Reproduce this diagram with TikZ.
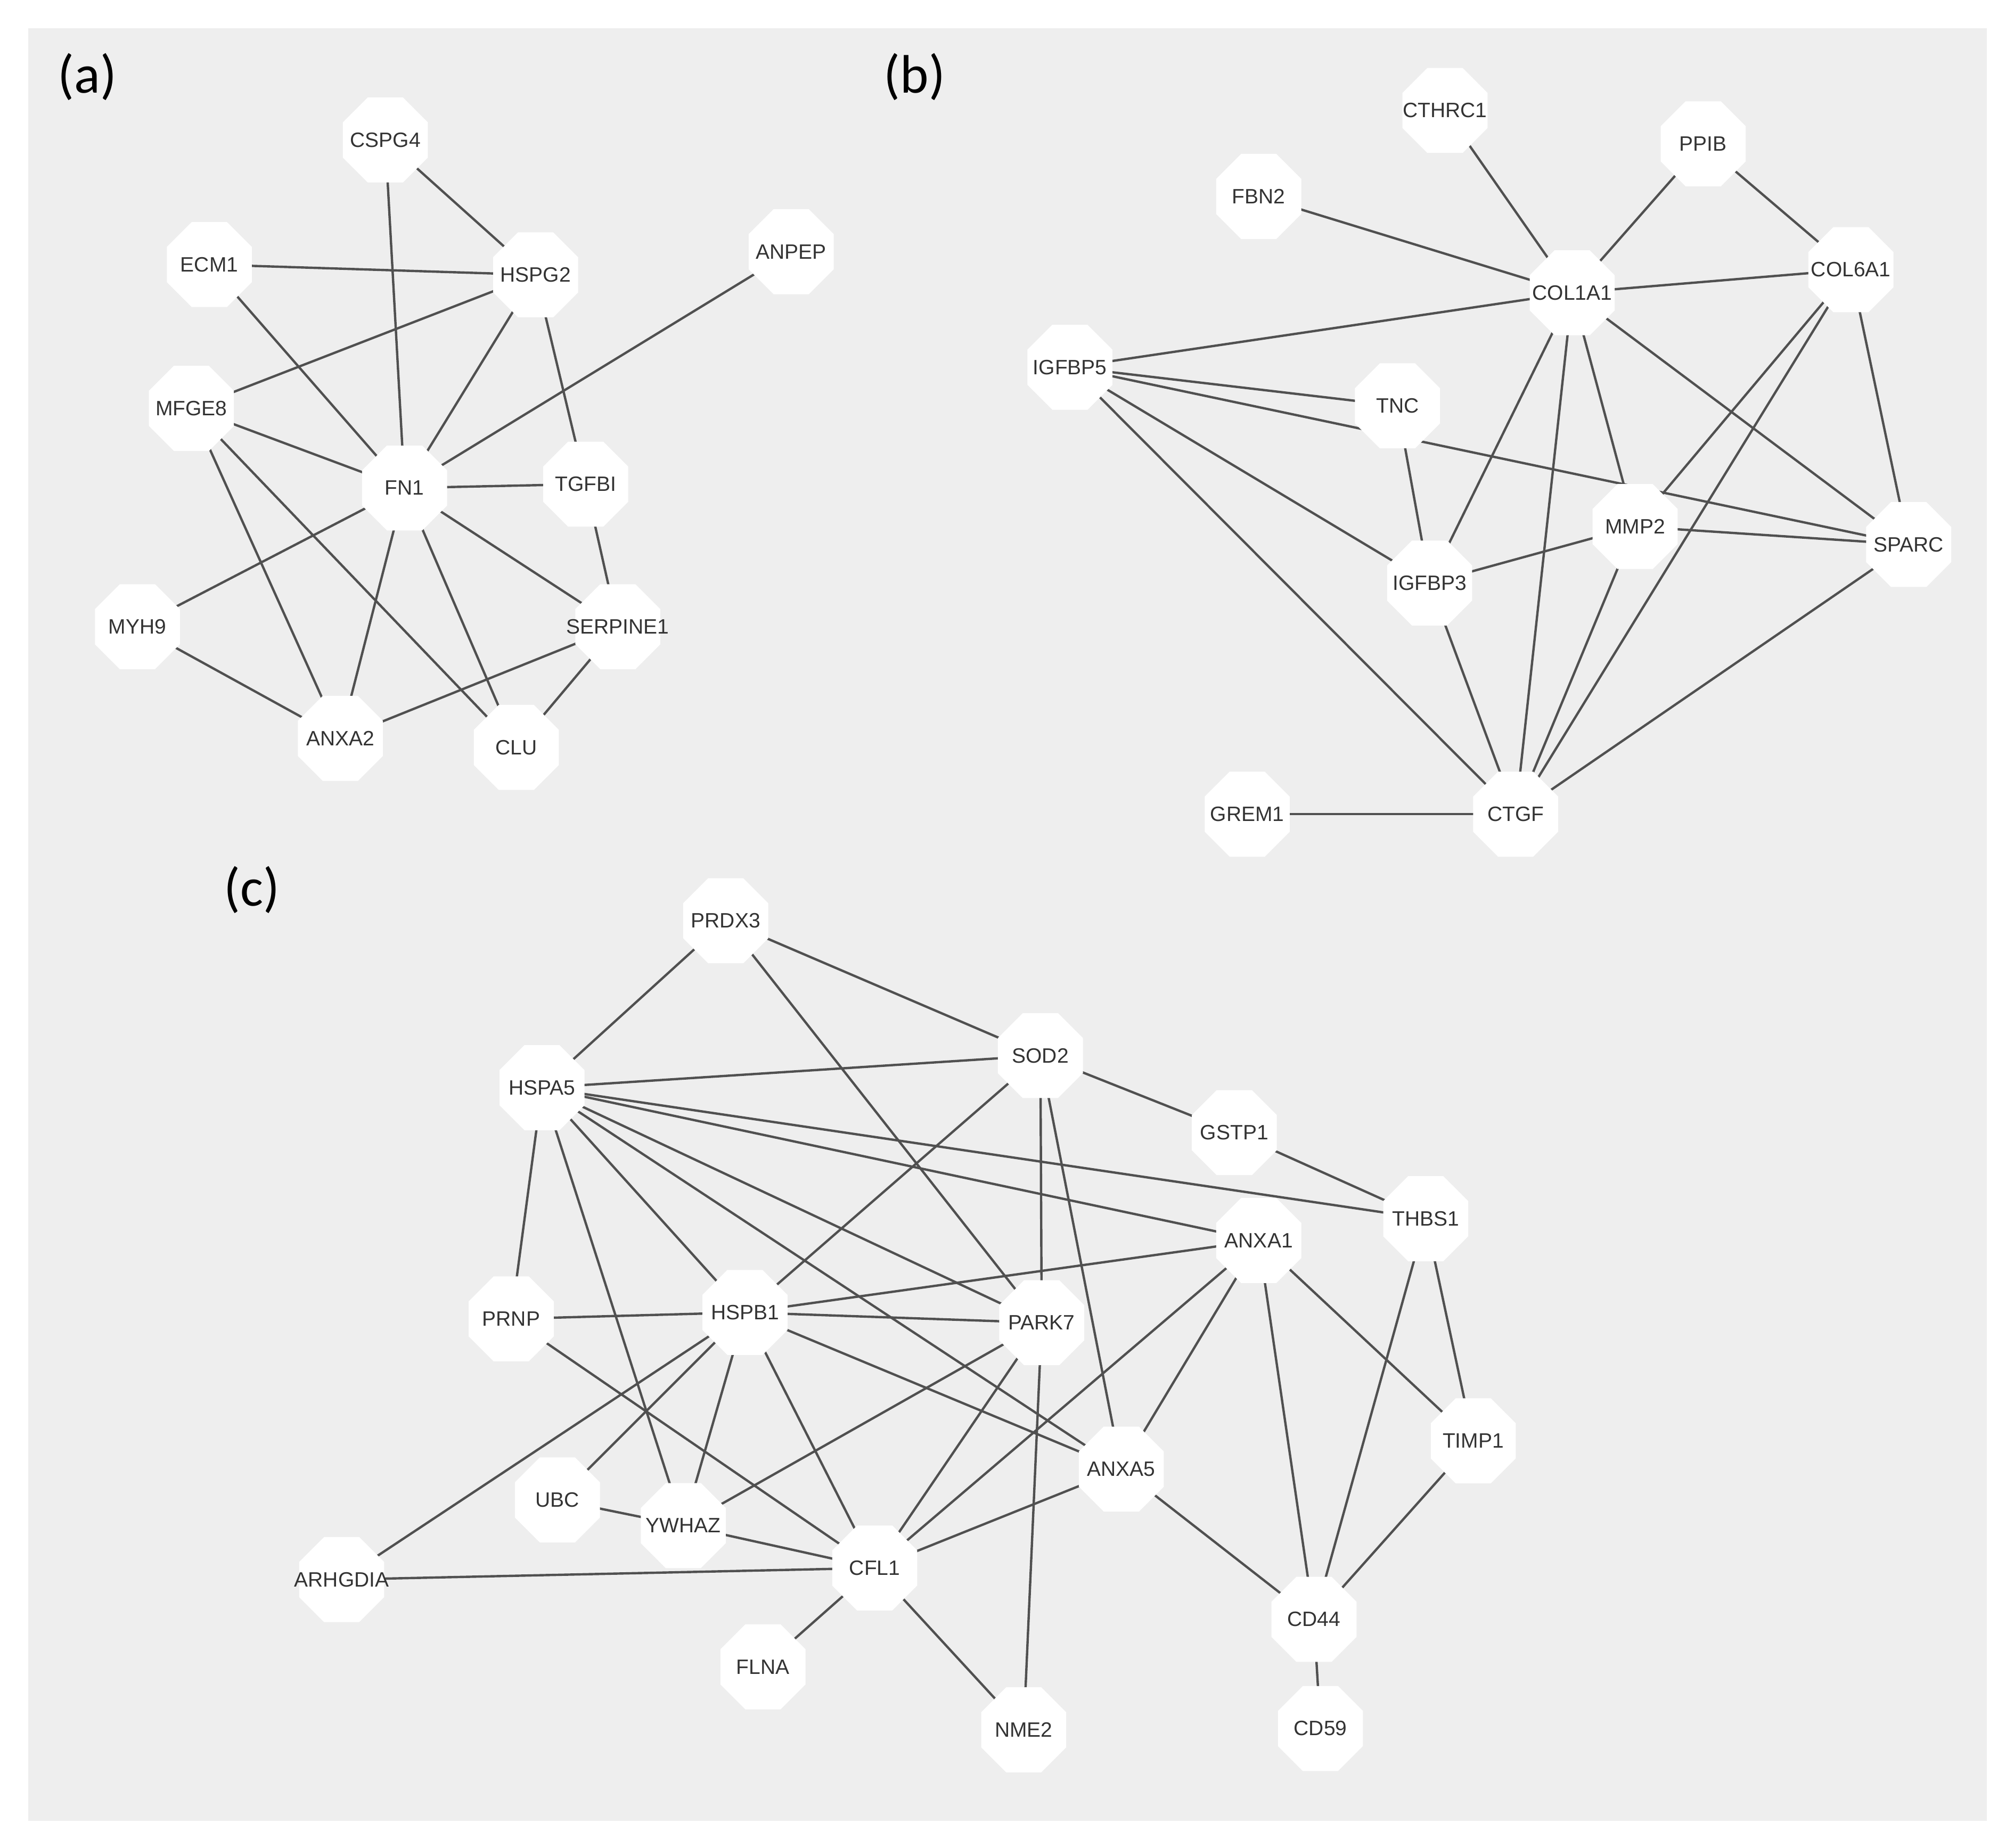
\documentclass[tikz,border=0pt]{standalone}
\usepackage{fontspec}
\setmainfont{Liberation Sans}
\newfontfamily\lblfont{Carlito}
\usetikzlibrary{shapes.geometric}
\definecolor{bg}{HTML}{EEEEEE}
\definecolor{edge}{HTML}{505050}
\pgfdeclarelayer{back}
\pgfdeclarelayer{edges}
\pgfsetlayers{back,edges,main}
\begin{document}
\begin{tikzpicture}[x=0.025cm,y=-0.025cm,
  g/.style={regular polygon,regular polygon sides=8,fill=white,draw=none,inner sep=0pt,minimum size=1.79cm,
    label={[font=\fontsize{11.5}{13}\selectfont,text=black!80]center:#1}},
  e/.style={draw=edge,line width=1.3pt},
  lbl/.style={font=\lblfont\fontsize{30}{34}\selectfont,text=black}]
\useasboundingbox (0,0) rectangle (1568,1439);
\begin{pgfonlayer}{back}
\fill[white] (0,0) rectangle (1568,1439);
\fill[bg] (22,22) rectangle (1547,1418);
\end{pgfonlayer}
\node[lbl] (la) at (68,60) {(a)};
\node[lbl] (lb) at (712,60) {(b)};
\node[lbl] (lc) at (196,693) {(c)};
% (a)
\node[g=CSPG4] (CSPG4) at (300,109) {};
\node[g=HSPG2] (HSPG2) at (417,214) {};
\node[g=ECM1] (ECM1) at (163,206) {};
\node[g=ANPEP] (ANPEP) at (616,196) {};
\node[g=MFGE8] (MFGE8) at (149,318) {};
\node[g=FN1] (FN1) at (315,380) {};
\node[g=TGFBI] (TGFBI) at (456,377) {};
\node[g=MYH9] (MYH9) at (107,488) {};
\node[g=SERPINE1] (SERPINE1) at (481,488) {};
\node[g=ANXA2] (ANXA2) at (265,575) {};
\node[g=CLU] (CLU) at (402,582) {};
% (b)
\node[g=CTHRC1] (CTHRC1) at (1125,86) {};
\node[g=PPIB] (PPIB) at (1326,112) {};
\node[g=FBN2] (FBN2) at (980,153) {};
\node[g=COL1A1] (COL1A1) at (1224,228) {};
\node[g=COL6A1] (COL6A1) at (1441,210) {};
\node[g=IGFBP5] (IGFBP5) at (833,286) {};
\node[g=TNC] (TNC) at (1088,316) {};
\node[g=MMP2] (MMP2) at (1273,410) {};
\node[g=SPARC] (SPARC) at (1486,424) {};
\node[g=IGFBP3] (IGFBP3) at (1113,454) {};
\node[g=GREM1] (GREM1) at (971,634) {};
\node[g=CTGF] (CTGF) at (1180,634) {};
% (c)
\node[g=PRDX3] (PRDX3) at (565,717) {};
\node[g=SOD2] (SOD2) at (810,822) {};
\node[g=HSPA5] (HSPA5) at (422,847) {};
\node[g=GSTP1] (GSTP1) at (961,882) {};
\node[g=THBS1] (THBS1) at (1110,949) {};
\node[g=ANXA1] (ANXA1) at (980,966) {};
\node[g=PRNP] (PRNP) at (398,1027) {};
\node[g=HSPB1] (HSPB1) at (580,1022) {};
\node[g=PARK7] (PARK7) at (811,1030) {};
\node[g=TIMP1] (TIMP1) at (1147,1122) {};
\node[g=ANXA5] (ANXA5) at (873,1144) {};
\node[g=UBC] (UBC) at (434,1168) {};
\node[g=YWHAZ] (YWHAZ) at (532,1188) {};
\node[g=CFL1] (CFL1) at (681,1221) {};
\node[g=ARHGDIA] (ARHGDIA) at (266,1230) {};
\node[g=CD44] (CD44) at (1023,1261) {};
\node[g=FLNA] (FLNA) at (594,1298) {};
\node[g=NME2] (NME2) at (797,1347) {};
\node[g=CD59] (CD59) at (1028,1346) {};
\begin{pgfonlayer}{edges}
\foreach \a/\b in {CSPG4/HSPG2,CSPG4/FN1,ECM1/HSPG2,ECM1/FN1,HSPG2/MFGE8,HSPG2/FN1,HSPG2/TGFBI,ANPEP/FN1,MFGE8/FN1,MFGE8/ANXA2,MFGE8/CLU,FN1/TGFBI,FN1/MYH9,FN1/SERPINE1,FN1/ANXA2,FN1/CLU,TGFBI/SERPINE1,MYH9/ANXA2,SERPINE1/ANXA2,SERPINE1/CLU,
CTHRC1/COL1A1,PPIB/COL1A1,PPIB/COL6A1,FBN2/COL1A1,COL1A1/COL6A1,COL1A1/IGFBP5,COL1A1/IGFBP3,COL1A1/CTGF,COL1A1/MMP2,COL1A1/SPARC,COL6A1/MMP2,COL6A1/CTGF,COL6A1/SPARC,IGFBP5/TNC,IGFBP5/SPARC,IGFBP5/IGFBP3,IGFBP5/CTGF,TNC/IGFBP3,IGFBP3/MMP2,IGFBP3/CTGF,MMP2/SPARC,MMP2/CTGF,SPARC/CTGF,GREM1/CTGF,
PRDX3/HSPA5,PRDX3/SOD2,PRDX3/PARK7,HSPA5/SOD2,SOD2/GSTP1,SOD2/HSPB1,SOD2/PARK7,SOD2/ANXA5,GSTP1/THBS1,HSPA5/THBS1,HSPA5/ANXA1,HSPA5/PRNP,HSPA5/HSPB1,HSPA5/PARK7,HSPA5/ANXA5,HSPA5/YWHAZ,ANXA1/HSPB1,ANXA1/TIMP1,ANXA1/CD44,ANXA1/ANXA5,ANXA1/CFL1,THBS1/TIMP1,THBS1/CD44,TIMP1/CD44,PRNP/HSPB1,PRNP/CFL1,HSPB1/PARK7,HSPB1/ANXA5,HSPB1/UBC,HSPB1/YWHAZ,HSPB1/CFL1,HSPB1/ARHGDIA,PARK7/YWHAZ,PARK7/CFL1,PARK7/NME2,ANXA5/CFL1,ANXA5/CD44,UBC/YWHAZ,YWHAZ/CFL1,ARHGDIA/CFL1,CFL1/FLNA,CFL1/NME2,CD44/CD59}
  \draw[e] (\a.center) -- (\b.center);
\end{pgfonlayer}
\end{tikzpicture}
\end{document}
